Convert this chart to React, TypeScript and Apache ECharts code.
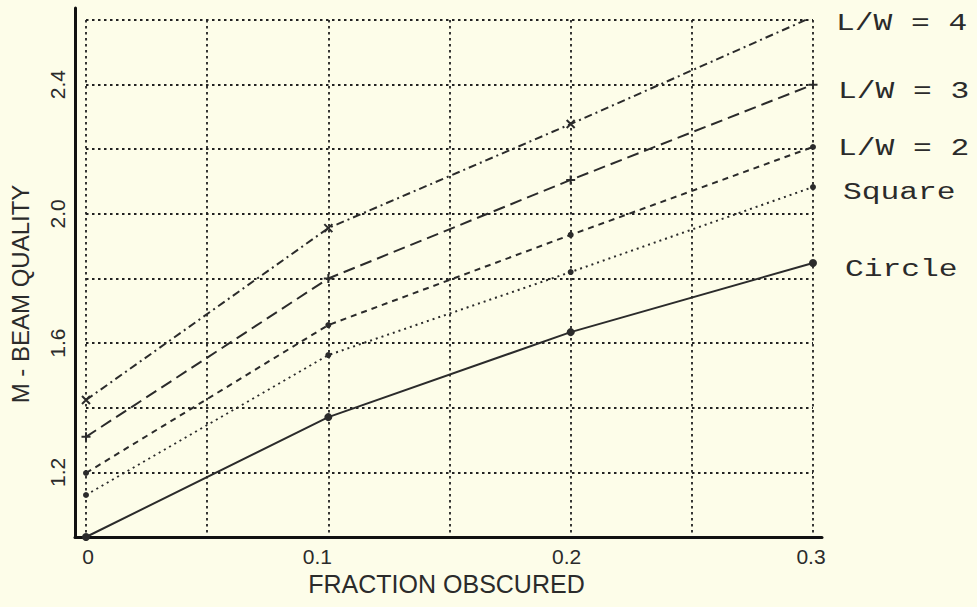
import React, { useEffect, useRef } from 'react';
import * as echarts from 'echarts';

const fractions = [0, 0.1, 0.2, 0.3];
const seriesNames = ['L/W = 4', 'L/W = 3', 'L/W = 2', 'Square', 'Circle'];
const lw4 = [1.424, 1.956, 2.278, 2.61];
const lw3 = [1.31, 1.8, 2.105, 2.4];
const lw2 = [1.198, 1.656, 1.935, 2.207];
const square = [1.13, 1.563, 1.82, 2.083];
const circle = [1.0, 1.371, 1.634, 1.848];
const xTickLabels = ['0', '0.1', '0.2', '0.3'];
const yTickLabels = ['1.2', '1.6', '2.0', '2.4'];
const xAxisTitle = 'FRACTION OBSCURED';
const yAxisTitle = 'M - BEAM QUALITY';

const INK = '#2b2b2b';
const BG = '#fdfde9';

const styles = [
  { dash: [8, 4, 2, 4], symbol: 'path://M0,0L10,10M10,0L0,10', size: 8, stroke: true, dx: 23, dy: 7 },
  { dash: [12, 6], symbol: 'path://M5,0L5,10M0,5L10,5', size: 9, stroke: true, dx: 25, dy: 7 },
  { dash: [6, 5], symbol: 'circle', size: 6, stroke: false, dx: 25, dy: 2 },
  { dash: [2, 4], symbol: 'circle', size: 6, stroke: false, dx: 30, dy: 6 },
  { dash: 'solid', symbol: 'circle', size: 8, stroke: false, dx: 32, dy: 7 },
];
// per-label horizontal nudge (px) of the x tick labels, as drawn in the original
const xLabelShift = [2, -11, -4, -2];

export default function App() {
  const ref = useRef<HTMLDivElement>(null);
  useEffect(() => {
    document.body.style.margin = '0';
    const chart = echarts.init(ref.current!, undefined, { renderer: 'svg' });
    const values = [lw4, lw3, lw2, square, circle];
    const tickFont = { fontFamily: 'Liberation Sans', fontSize: 21, color: INK };
    const rich: Record<string, any> = {};
    xLabelShift.forEach((s, i) => {
      rich['s' + i] = {
        ...tickFont,
        padding: s < 0 ? [0, -2 * s, 0, 0] : [0, 0, 0, 2 * s],
      };
    });
    const gridLine = { color: '#222', width: 1.8, type: [2.5, 3.5] };
    chart.setOption({
      animation: false,
      backgroundColor: BG,
      grid: [
        { left: 83, right: 164, top: 20, bottom: 70 },
        { left: 75, right: 155, top: 8, bottom: 70 },
      ],
      xAxis: [
        {
          type: 'value', gridIndex: 0, min: 0, max: 0.3, interval: 0.05,
          axisLine: { show: false }, axisTick: { show: false },
          splitLine: { show: true, lineStyle: gridLine },
          axisLabel: {
            ...tickFont, margin: 9, rich,
            formatter: (v: number) => {
              const i = fractions.findIndex((f) => Math.abs(f - v) < 1e-9);
              return i >= 0 ? `{s${i}|${xTickLabels[i]}}` : '';
            },
          },
          name: xAxisTitle, nameLocation: 'middle', nameGap: 33,
          nameTextStyle: { fontFamily: 'Liberation Sans', fontSize: 25, color: INK, padding: [0, 6, 0, 0] },
        },
        {
          type: 'value', gridIndex: 1, min: 0, max: 1,
          axisLine: { show: true, onZero: false, lineStyle: { color: '#111', width: 3 } },
          axisTick: { show: false }, axisLabel: { show: false }, splitLine: { show: false },
        },
      ],
      yAxis: [
        {
          type: 'value', gridIndex: 0, min: 1.0, max: 2.6, interval: 0.2,
          axisLine: { show: false }, axisTick: { show: false },
          splitLine: { show: true, lineStyle: gridLine },
          axisLabel: {
            ...tickFont, rotate: 90, margin: 18,
            formatter: (v: number) => (yTickLabels.includes(v.toFixed(1)) ? v.toFixed(1) : ''),
          },
          name: yAxisTitle, nameLocation: 'middle', nameGap: 54, nameRotate: 90,
          nameTextStyle: { fontFamily: 'Liberation Sans', fontSize: 24, color: INK, padding: [0, 31, 0, 0] },
        },
        {
          type: 'value', gridIndex: 1, min: 0, max: 1,
          axisLine: { show: true, onZero: false, lineStyle: { color: '#111', width: 3 } },
          axisTick: { show: false }, axisLabel: { show: false }, splitLine: { show: false },
        },
      ],
      series: values.map((vals, i) => ({
        name: seriesNames[i],
        type: 'line',
        xAxisIndex: 0,
        yAxisIndex: 0,
        data: fractions.map((f, j) => [f, vals[j]]),
        symbol: styles[i].symbol,
        symbolSize: styles[i].size,
        showAllSymbol: true,
        lineStyle: { color: INK, width: 2, type: styles[i].dash },
        itemStyle: styles[i].stroke
          ? { color: 'none', borderColor: INK, borderWidth: 2 }
          : { color: INK, borderColor: INK, borderWidth: 0 },
        z: 5,
      })),
    });
    const graphics = values.map((vals, i) => {
      const last = vals[vals.length - 1];
      const p = chart.convertToPixel({ gridIndex: 0 }, [fractions[fractions.length - 1], last]) as number[];
      return {
        type: 'text',
        x: p[0] + styles[i].dx,
        y: p[1] + styles[i].dy,
        scaleX: 1.36,
        z: 10,
        style: {
          text: seriesNames[i],
          fontFamily: 'Liberation Mono',
          fontSize: 23,
          fill: INK,
          align: 'left',
          verticalAlign: 'middle',
          textAlign: 'left',
          textVerticalAlign: 'middle',
        },
      };
    });
    chart.setOption({ graphic: graphics });
    return () => chart.dispose();
  }, []);
  return <div ref={ref} style={{ width: 977, height: 607, background: BG }} />;
}
